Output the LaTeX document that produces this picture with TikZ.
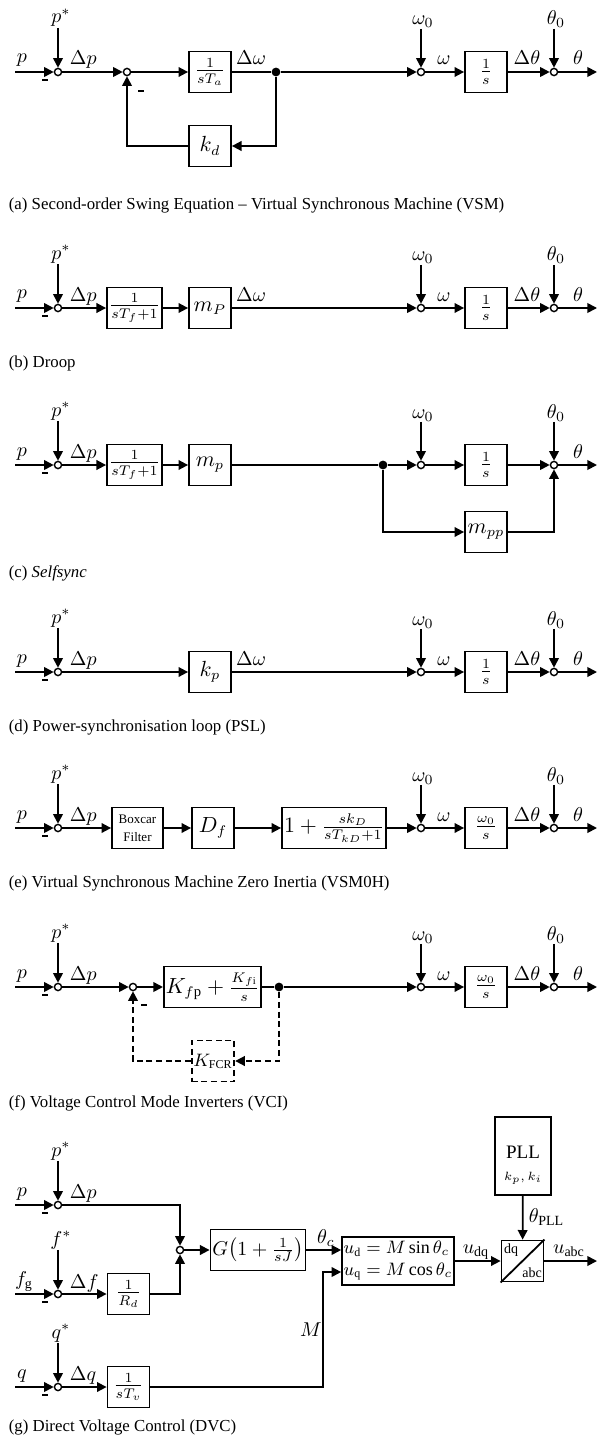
\documentclass[tikz,border=0pt]{standalone}
\usepackage{amsmath}
\usepackage{fontspec}
\setmainfont{Liberation Serif}
\usetikzlibrary{arrows.meta}

\begin{document}
\begin{tikzpicture}[x=0.5pt,y=-0.5pt,
    line width=0.9pt,
    sig/.style={-{Triangle[length=4.8pt,width=4.8pt]}},
    blk/.style={draw,minimum width=21pt,minimum height=20.5pt,inner sep=1pt,
                font=\fontsize{10.5}{12}\selectfont},
    sumpt/.style={draw,circle,line width=0.7pt,inner sep=0pt,minimum size=3.6pt},
    dotpt/.style={circle,fill,inner sep=0pt,minimum size=4.4pt},
    lbl/.style={inner sep=0pt,font=\fontsize{10}{11}\selectfont},
    negsign/.style={inner sep=0pt},
    fb/.style={dash pattern=on 3pt off 1.8pt},
    captxt/.style={anchor=west,inner sep=0pt,font=\fontsize{8.4}{10}\selectfont}]
\useasboundingbox (0,0) rectangle (611,1439);

% inputs p, p^* and first summing point of every panel
\foreach \n/\y in {a/72,b/308,c/465,d/672,e/828,f/987,g/1205}{
  \node[sumpt] (ps\n) at (58,\y) {};
  \node[lbl,anchor=base] (pr\n) at (61,\y-49) {$p^*$};
  \node[lbl,anchor=base] (pl\n) at (22,\y-9) {$p$};
  \node[lbl,anchor=base west] (dp\n) at (69,\y-7) {$\Delta p$};
  \node[negsign] (pm\n) at (45,\y+8) {\rule{3pt}{1pt}};
  \coordinate (pi\n) at (15,\y);
  \draw[sig] (pr\n.south -| ps\n) -- (ps\n);
  \draw[sig] (pi\n) -- (ps\n);
}

% omega_0 and theta_0 part
\foreach \n/\y/\tf in {a/72/{\frac{1}{s}},b/308/{\frac{1}{s}},d/672/{\frac{1}{s}},
                       e/828/{\frac{\omega_0}{s}},f/987/{\frac{\omega_0}{s}}}{
  \node[sumpt] (ws\n) at (421,\y) {};
  \node[lbl,anchor=base] (wr\n) at (423,\y-47) {$\omega_0$};
  \node[lbl,anchor=base] (wl\n) at (444,\y-7) {$\omega$};
  \node[blk] (ig\n) at (486,\y) {$\tf$};
  \node[lbl,anchor=base] (dt\n) at (527,\y-7) {$\Delta\theta$};
  \node[sumpt] (ts\n) at (554,\y) {};
  \node[lbl,anchor=base] (tr\n) at (556,\y-47) {$\theta_0$};
  \node[lbl,anchor=base] (tl\n) at (578,\y-7) {$\theta$};
  \coordinate (to\n) at (597,\y);
  \draw[sig] (wr\n.south -| ws\n) -- (ws\n);
  \draw[sig] (ws\n) -- (ig\n);
  \draw[sig] (ig\n) -- (ts\n);
  \draw[sig] (tr\n.south -| ts\n) -- (ts\n);
  \draw[sig] (ts\n) -- (to\n);
}

% (a) VSM
\node[sumpt] (fsa) at (127,72) {};
\node[negsign] (fma) at (141,91) {\rule{3pt}{1pt}};
\node[blk] (tma) at (210,72) {$\frac{1}{sT_a}$};
\node[lbl,anchor=base] (dwa) at (251,65) {$\Delta\omega$};
\node[dotpt] (bra) at (276,72) {};
\node[blk] (kda) at (210,146) {$k_d$};
\draw[sig] (psa) -- (fsa);
\draw[sig] (fsa) -- (tma);
\draw (tma) -- (bra);
\draw[sig] (bra) -- (wsa);
\draw[sig] (bra) |- (kda);
\draw[sig] (kda) -| (fsa);

% (b) droop
\node[blk,minimum width=25.5pt] (lpb) at (134.5,308) {$\frac{1}{sT_f+1}$};
\node[blk] (mpb) at (210,308) {$m_P$};
\node[lbl,anchor=base] (dwb) at (251,301) {$\Delta\omega$};
\draw[sig] (psb) -- (lpb);
\draw[sig] (lpb) -- (mpb);
\draw[sig] (mpb) -- (wsb);

% (c) selfsync
\node[blk,minimum width=25.5pt] (lpc) at (134.5,465) {$\frac{1}{sT_f+1}$};
\node[blk] (mpc) at (210,465) {$m_p$};
\node[dotpt] (brc) at (383,465) {};
\node[sumpt] (wsc) at (421,465) {};
\node[lbl,anchor=base] (wrc) at (423,418) {$\omega_0$};
\node[blk] (igc) at (486,465) {$\frac{1}{s}$};
\node[sumpt] (tsc) at (554,465) {};
\node[lbl,anchor=base] (trc) at (556,418) {$\theta_0$};
\node[lbl,anchor=base] (tlc) at (578,458) {$\theta$};
\coordinate (toc) at (597,465);
\node[blk] (mppc) at (486,532) {$m_{pp}$};
\draw[sig] (psc) -- (lpc);
\draw[sig] (lpc) -- (mpc);
\draw (mpc) -- (brc);
\draw[sig] (brc) -- (wsc);
\draw[sig] (wrc.south -| wsc) -- (wsc);
\draw[sig] (wsc) -- (igc);
\draw[sig] (igc) -- (tsc);
\draw[sig] (trc.south -| tsc) -- (tsc);
\draw[sig] (tsc) -- (toc);
\draw[sig] (brc) |- (mppc);
\draw[sig] (mppc) -| (tsc);

% (d) PSL
\node[blk] (kpd) at (210,672) {$k_p$};
\node[lbl,anchor=base] (dwd) at (251,665) {$\Delta\omega$};
\draw[sig] (psd) -- (kpd);
\draw[sig] (kpd) -- (wsd);

% (e) VSM0H
\node[blk,minimum width=25.5pt,font=\fontsize{6.5}{9}\selectfont,align=center] (bxe) at (137.5,828) {Boxcar\\Filter};
\node[blk] (dfe) at (213,828) {$D_f$};
\node[blk,minimum width=49pt] (kde) at (334,828) {$1+\frac{sk_D}{sT_{kD}+1}$};
\draw[sig] (pse) -- (bxe);
\draw[sig] (bxe) -- (dfe);
\draw[sig] (dfe) -- (kde);
\draw[sig] (kde) -- (wse);

% (f) VCI
\node[sumpt] (fsf) at (133,987) {};
\node[negsign] (fmf) at (144,1005) {\rule{3pt}{1pt}};
\node[blk,minimum width=41.5pt] (kff) at (212.5,987) {$K_{f\mathrm{p}}+\frac{K_{f\mathrm{i}}}{s}$};
\node[dotpt] (brf) at (279,987) {};
\node[blk,fb,inner sep=0.8pt,font=\fontsize{9}{10}\selectfont] (kcf) at (213,1061) {$K_{\mathrm{FCR}}$};
\draw[sig] (psf) -- (fsf);
\draw[sig] (fsf) -- (kff);
\draw (kff) -- (brf);
\draw[sig] (brf) -- (wsf);
\draw[sig,fb] (brf) |- (kcf);
\draw[sig,fb] (kcf) -| (fsf);

% (g) DVC
\node[sumpt] (fsg) at (58,1294) {};
\node[lbl,anchor=base] (frg) at (61,1245) {$f^*$};
\node[lbl,anchor=base] (flg) at (24,1285) {$f_{\mathrm{g}}$};
\node[lbl,anchor=base west] (dfg) at (69,1288) {$\Delta f$};
\node[negsign] (fmg) at (45,1302) {\rule{3pt}{1pt}};
\coordinate (fig) at (15,1294);
\node[blk] (rdg) at (128.5,1294) {$\frac{1}{R_d}$};
\node[sumpt] (qsg) at (58,1387) {};
\node[lbl,anchor=base] (qrg) at (61,1338) {$q^*$};
\node[lbl,anchor=base] (qlg) at (22,1378) {$q$};
\node[lbl,anchor=base west] (dqg) at (69,1380) {$\Delta q$};
\node[negsign] (qmg) at (45,1395) {\rule{3pt}{1pt}};
\coordinate (qig) at (15,1387);
\node[blk] (tvg) at (128.5,1387) {$\frac{1}{sT_v}$};
\node[sumpt] (ssg) at (180,1250) {};
\node[blk,minimum width=47pt,font=\fontsize{10}{12}\selectfont] (gjg) at (258,1250) {$G\bigl(1+\frac{1}{sJ}\bigr)$};
\node[lbl,anchor=base] (tcg) at (326,1243) {$\theta_c$};
\node[blk,minimum width=55pt,minimum height=24pt,align=left,inner sep=0.8pt,font=\fontsize{9}{11}\selectfont] (udg) at (398,1261)
  {$u_{\mathrm{d}}=M\sin\theta_c$\\$u_{\mathrm{q}}=M\cos\theta_c$};
\coordinate (mkg) at (323,1272);
\node[lbl] (mlg) at (311,1330) {$M$};
\node[lbl,anchor=base] (uqg) at (476,1253) {$u_{\mathrm{dq}}$};
\node[blk] (cvg) at (522.5,1261) {};
\node[inner sep=0pt,font=\fontsize{7}{8}\selectfont] (cdq) at (511,1250) {dq};
\node[inner sep=0pt,font=\fontsize{7}{8}\selectfont] (cab) at (532,1273) {abc};
\node[lbl,anchor=base] (uag) at (569,1253) {$u_{\mathrm{abc}}$};
\coordinate (uog) at (597,1261);
\node[blk,minimum width=28pt,minimum height=39pt] (plg) at (523,1156) {};
\node[inner sep=0pt,font=\fontsize{9.5}{10}\selectfont] (pln) at (523,1152) {PLL};
\node[inner sep=0pt,font=\fontsize{6}{7}\selectfont] (plk) at (523,1178) {$k_p,k_i$};
\node[lbl,anchor=base west] (tpg) at (528,1222) {$\theta_{\mathrm{PLL}}$};
\draw[sig] (fig) -- (fsg);
\draw[sig] (frg.south -| fsg) -- (fsg);
\draw[sig] (fsg) -- (rdg);
\draw[sig] (qig) -- (qsg);
\draw[sig] (qrg.south -| qsg) -- (qsg);
\draw[sig] (qsg) -- (tvg);
\draw[sig] (psg) -| (ssg);
\draw[sig] (rdg) -| (ssg);
\draw[sig] (ssg) -- (gjg);
\draw[sig] (gjg) -- (gjg -| udg.west);
\draw[sig] (tvg) -| (mkg) -- (mkg -| udg.west);
\draw[sig] (udg) -- (cvg);
\draw (cvg.south west) -- (cvg.north east);
\draw[sig] (plg) -- (cvg);
\draw[sig] (cvg) -- (uog);

% captions
\node[captxt] (capa) at (8,205) {(a) Second-order Swing Equation -- Virtual Synchronous Machine (VSM)};
\node[captxt] (capb) at (8,363) {(b) Droop};
\node[captxt] (capc) at (8,573) {(c) \textit{Selfsync}};
\node[captxt] (capd) at (8,727) {(d) Power-synchronisation loop (PSL)};
\node[captxt] (cape) at (8,883) {(e) Virtual Synchronous Machine Zero Inertia (VSM0H)};
\node[captxt] (capf) at (8,1103) {(f) Voltage Control Mode Inverters (VCI)};
\node[captxt] (capg) at (8,1427) {(g) Direct Voltage Control (DVC)};
\end{tikzpicture}
\end{document}
